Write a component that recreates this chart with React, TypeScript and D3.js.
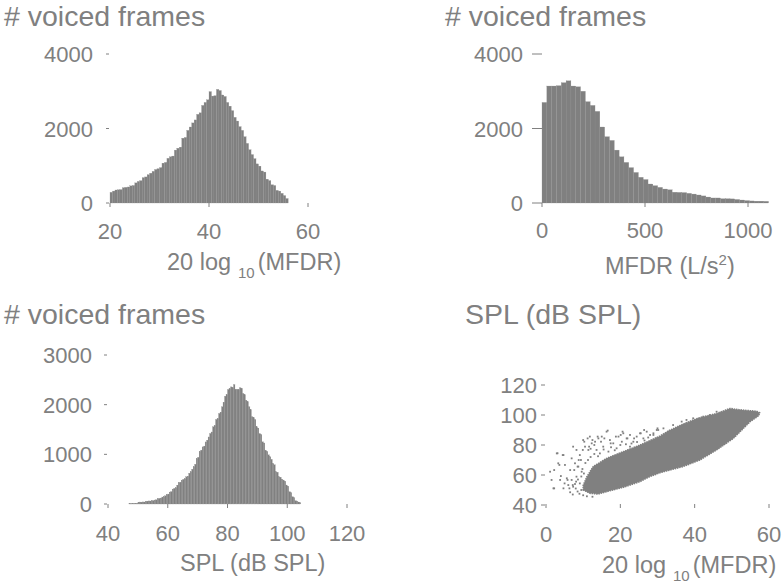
import React from 'react';
import * as d3 from 'd3';

const GREY = '#808080';
const FONT = "'Liberation Sans', Arial, Helvetica, sans-serif";

// ---------- Panel A: histogram of 20 log10(MFDR) ----------
const mfdrDbBinStart = 20;
const mfdrDbBinWidth = 0.5;
const mfdrDbCounts = [
  287, 320, 349, 355, 360, 410, 421, 430, 460, 470,
  540, 580, 600, 680, 700, 760, 800, 850, 900, 920,
  950, 1070, 1090, 1200, 1240, 1260, 1420, 1470, 1500, 1740,
  1760, 1950, 2040, 2150, 2230, 2380, 2420, 2620, 2700, 2770,
  2990, 2870, 2880, 3050, 3020, 2900, 2860, 2700, 2600, 2480,
  2300, 2200, 2050, 1950, 1780, 1600, 1430, 1300, 1190, 1050,
  990, 860, 830, 640, 600, 490, 470, 340, 320, 260,
  200, 120,
];
const mfdrDbXTicks = [20, 40, 60];
const mfdrDbYTicks = [0, 2000, 4000];

// ---------- Panel B: histogram of MFDR ----------
const mfdrBinStart = 0;
const mfdrBinWidth = 23.4;
const mfdrCounts = [
  2700, 3140, 3140, 3150, 3230, 3280, 3140, 3120, 3000, 2720,
  2620, 2460, 2040, 1780, 1680, 1420, 1240, 1090, 950, 820,
  690, 630, 510, 465, 420, 375, 355, 290, 285, 280,
  260, 240, 215, 190, 160, 135, 135, 115, 115, 110,
  95, 80, 65, 55, 50, 50, 45,
];
const mfdrXTicks = [0, 500, 1000];
const mfdrYTicks = [0, 2000, 4000];

// ---------- Panel C: histogram of SPL ----------
const splBinStart = 47;
const splBinWidth = 0.5;
const splCounts = [
  10, 10, 10, 12, 15, 15, 25, 40, 38, 42,
  40, 54, 58, 62, 60, 64, 70, 80, 85, 105,
  114, 120, 140, 150, 165, 190, 200, 240, 250, 300,
  315, 330, 380, 429, 440, 480, 496, 510, 549, 560,
  620, 650, 700, 750, 800, 918, 940, 1060, 1085, 1150,
  1166, 1250, 1286, 1350, 1420, 1450, 1554, 1580, 1702, 1720,
  1823, 1850, 1956, 2050, 2170, 2200, 2305, 2320, 2358, 2340,
  2405, 2305, 2310, 2300, 2340, 2330, 2225, 2200, 2090, 2060,
  1956, 1900, 1755, 1740, 1700, 1554, 1530, 1420, 1400, 1252,
  1230, 1085, 1060, 990, 951, 900, 817, 790, 650, 640,
  549, 540, 500, 482, 460, 382, 360, 248, 230, 147,
  130, 67, 60, 40, 30,
];
const splXTicks = [40, 60, 80, 100, 120];
const splYTicks = [0, 1000, 2000, 3000];

// ---------- Panel D: SPL vs 20 log10(MFDR) ----------
const scatterXTicks = [0, 20, 40, 60];
const scatterYTicks = [40, 60, 80, 100, 120];
// dense core of the point cloud: lower edge (left to right), upper edge (right to left)
const cloudLower: [number, number][] = [
  [10, 50], [11.8, 47.8], [14, 47.3], [16.3, 48.9], [20.8, 51.8], [25.3, 55.6],
  [28, 59], [30.7, 61.5], [32.4, 62.7], [36.9, 65.6], [41.4, 70], [45.9, 76.7],
  [50.4, 84.4], [54.9, 95.5], [57.2, 99.5],
];
const cloudUpper: [number, number][] = [
  [57.5, 101.5], [56.7, 102.5], [52, 103.5], [49.5, 104.4], [45.9, 101], [41, 98],
  [36.9, 94], [33, 89.5], [30.7, 86], [25.3, 80], [20.8, 75.6], [16.3, 71.1],
  [12.7, 65.6], [11, 58.9], [10, 53],
];
const scatterOutliers: [number, number][] = [
  [10.0, 83.3], [11.8, 85.6], [12.3, 81.1], [13.2, 82.2], [14.1, 84.4], [15.0, 85.6],
  [16.3, 88.9], [17.2, 83.3], [18.1, 81.1], [19.5, 85.6], [20.4, 82.2], [20.8, 87.8],
  [21.7, 84.4], [22.6, 86.7], [23.5, 82.2], [24.4, 85.6], [25.3, 87.8], [26.2, 84.4],
  [27.1, 88.9], [28.0, 86.7], [28.9, 87.8], [29.8, 90], [10.5, 78.9], [11.4, 76.7],
  [9.1, 73.3], [8.2, 76.7], [7.3, 78.9], [6.9, 71.1], [7.8, 67.8], [8.7, 65.6],
  [9.6, 62.2], [8.2, 58.9], [6.9, 56.7], [6.0, 53.3], [7.3, 52.2], [9.1, 54.4],
  [5.6, 57.8], [4.7, 51.1], [3.8, 56.7], [2.9, 74.4], [4.7, 73.3], [1.1, 62.2],
  [1.5, 56.7], [2.0, 51.1], [3.3, 67.8], [5.1, 66.7], [6.5, 63.3], [15.4, 78.9],
  [19.0, 77.8], [22.6, 78.9], [14.5, 74.4], [13.6, 76.7], [16.8, 75.6], [9.5, 50],
  [8.5, 49], [9, 47.5], [10, 46.5], [8, 51], [7.8, 54], [8.6, 57],
  [9.5, 59], [10.2, 61], [9.8, 64], [10.6, 68], [11.3, 70], [12, 72],
  [8.8, 70], [6.5, 48.5], [7.2, 47], [11, 45.8], [12.5, 45.5], [28.9, 86.7],
  [30.2, 90], [31.6, 91.1], [32.9, 88.9], [34.2, 93.3], [36.0, 92.2], [37.8, 96.7],
  [39.6, 97.8], [41.4, 95.6], [42.3, 98.9], [44.1, 100], [45.9, 102.2], [39.6, 94.4],
  [36.5, 95.6], [32.0, 85.6], [29.8, 84.4], [3.1, 74.5], [4.5, 73.3], [2.2, 63.3],
  [3.6, 66.7], [4.0, 59.3], [2.2, 51.1], [5.0, 54.4], [5.8, 56.7], [6.3, 51.1],
  [7.2, 53.3], [8.1, 55.6], [7.6, 63.3], [8.5, 65.6], [9.4, 70], [9.9, 76.7],
  [10.3, 82.2], [11.2, 84.4], [11.6, 78.9], [12.5, 83.3], [13.0, 80], [13.9, 85.6],
  [14.8, 82.2], [15.7, 84.4], [16.6, 89.6], [17.4, 81.1], [18.8, 85.6], [20.1, 86.7],
  [20.6, 88.9], [21.9, 84.4], [23.7, 84.4], [25.5, 87.8], [26.4, 90], [30, 91.1],
  [12.0, 77.5], [13.0, 74], [14.0, 72.5], [15.5, 77], [17.5, 78.5], [18.5, 76.5],
  [20.0, 80], [21.5, 80.5], [23.0, 81], [24.5, 82], [26.5, 83], [27.5, 85],
];

type HistProps = {
  counts: number[];
  binStart: number;
  binWidth: number;
  xDomain: [number, number];
  xRange: [number, number];
  yDomain: [number, number];
  yRange: [number, number];
  xTicks: number[];
  yTicks: number[];
  yTickFrom: number;
  yTickTo: number;
  yLabelX: number;
  xTickFrom: number;
  xTickTo: number;
  xLabelBaseline: number;
};

function Histogram(p: HistProps) {
  const x = d3.scaleLinear().domain(p.xDomain).range(p.xRange);
  const y = d3.scaleLinear().domain(p.yDomain).range(p.yRange);
  return (
    <g>
      {p.counts.map((c, i) => {
        const x0 = x(p.binStart + i * p.binWidth);
        const x1 = x(p.binStart + (i + 1) * p.binWidth);
        return (
          <rect
            key={i}
            x={x0}
            y={y(c)}
            width={x1 - x0}
            height={y(0) - y(c)}
            fill={GREY}
            stroke="#8c8c8c"
            strokeWidth={0.25}
          />
        );
      })}
      {p.yTicks.map((t) => (
        <g key={'y' + t}>
          <line x1={p.yTickFrom} x2={p.yTickTo} y1={y(t)} y2={y(t)} stroke={GREY} strokeWidth={1} />
          <text x={p.yLabelX} y={y(t) + 8} textAnchor="end" fontSize={22} fill={GREY} fontFamily={FONT}>
            {t}
          </text>
        </g>
      ))}
      {p.xTicks.map((t) => (
        <g key={'x' + t}>
          <line x1={x(t)} x2={x(t)} y1={p.xTickFrom} y2={p.xTickTo} stroke={GREY} strokeWidth={1} />
          <text x={x(t)} y={p.xLabelBaseline} textAnchor="middle" fontSize={22} fill={GREY} fontFamily={FONT}>
            {t}
          </text>
        </g>
      ))}
    </g>
  );
}

function Scatter() {
  const x = d3.scaleLinear().domain([0, 60]).range([546, 769]);
  const y = d3.scaleLinear().domain([40, 120]).range([505, 385]);
  const line = d3
    .line<[number, number]>()
    .x((d) => x(d[0]))
    .y((d) => y(d[1]))
    .curve(d3.curveLinearClosed);
  const cloud = line([...cloudLower, ...cloudUpper]) || '';
  return (
    <g>
      <path d={cloud} fill={GREY} stroke={GREY} strokeWidth={1.5} strokeDasharray="1.5 0.8" />
      {scatterOutliers.map((d, i) => (
        <rect key={i} x={x(d[0]) - 0.9} y={y(d[1]) - 0.9} width={1.8} height={1.8} fill={GREY} />
      ))}
      {scatterYTicks.map((t) => (
        <g key={'y' + t}>
          <line x1={541} x2={545} y1={y(t)} y2={y(t)} stroke={GREY} strokeWidth={1} />
          <text x={537} y={y(t) + 8} textAnchor="end" fontSize={22} fill={GREY} fontFamily={FONT}>
            {t}
          </text>
        </g>
      ))}
      {scatterXTicks.map((t) => (
        <g key={'x' + t}>
          <line x1={x(t)} x2={x(t)} y1={504} y2={508} stroke={GREY} strokeWidth={1} />
          <text x={x(t)} y={542} textAnchor="middle" fontSize={22} fill={GREY} fontFamily={FONT}>
            {t}
          </text>
        </g>
      ))}
    </g>
  );
}

function Txt(props: { x: number; y: number; size: number; children: React.ReactNode }) {
  return (
    <text x={props.x} y={props.y} fontSize={props.size} fill={GREY} fontFamily={FONT}>
      {props.children}
    </text>
  );
}

export default function App() {
  return (
    <svg
      width={784}
      height={588}
      viewBox="0 0 784 588"
      style={{ position: 'absolute', left: 0, top: 0, background: '#ffffff' }}
    >
      <rect x={0} y={0} width={784} height={588} fill="#ffffff" />

      {/* Panel A */}
      <Txt x={4} y={26} size={28.5}># voiced frames</Txt>
      <Histogram
        counts={mfdrDbCounts}
        binStart={mfdrDbBinStart}
        binWidth={mfdrDbBinWidth}
        xDomain={[20, 60]}
        xRange={[110, 308]}
        yDomain={[0, 4000]}
        yRange={[203, 54]}
        xTicks={mfdrDbXTicks}
        yTicks={mfdrDbYTicks}
        yTickFrom={106}
        yTickTo={109}
        yLabelX={93}
        xTickFrom={203}
        xTickTo={207}
        xLabelBaseline={239}
      />
      <text x={167} y={270} fontSize={23.5} fill={GREY} fontFamily={FONT}>
        20 log
        <tspan dx={7} dy={8} fontSize={15}>10</tspan>
        <tspan dx={3} dy={-8} fontSize={23.5}>(MFDR)</tspan>
      </text>

      {/* Panel B */}
      <Txt x={445} y={26} size={28.5}># voiced frames</Txt>
      <Histogram
        counts={mfdrCounts}
        binStart={mfdrBinStart}
        binWidth={mfdrBinWidth}
        xDomain={[0, 1000]}
        xRange={[542, 748]}
        yDomain={[0, 4000]}
        yRange={[203, 54]}
        xTicks={mfdrXTicks}
        yTicks={mfdrYTicks}
        yTickFrom={532}
        yTickTo={542}
        yLabelX={523}
        xTickFrom={203}
        xTickTo={207}
        xLabelBaseline={238}
      />
      <text x={605} y={274} fontSize={23.5} fill={GREY} fontFamily={FONT}>
        MFDR (L/s
        <tspan dy={-9} fontSize={15}>2</tspan>
        <tspan dy={9} fontSize={23.5}>)</tspan>
      </text>

      {/* Panel C */}
      <Txt x={4} y={324} size={28.5}># voiced frames</Txt>
      <Histogram
        counts={splCounts}
        binStart={splBinStart}
        binWidth={splBinWidth}
        xDomain={[40, 120]}
        xRange={[108, 347]}
        yDomain={[0, 3000]}
        yRange={[504, 355]}
        xTicks={splXTicks}
        yTicks={splYTicks}
        yTickFrom={104}
        yTickTo={107}
        yLabelX={92}
        xTickFrom={504}
        xTickTo={508}
        xLabelBaseline={541}
      />
      <Txt x={180} y={571} size={23.5}>SPL (dB SPL)</Txt>

      {/* Panel D */}
      <Txt x={465} y={324} size={28.5}>SPL (dB SPL)</Txt>
      <Scatter />
      <text x={602} y={573} fontSize={23.5} fill={GREY} fontFamily={FONT}>
        20 log
        <tspan dx={7} dy={8} fontSize={15}>10</tspan>
        <tspan dx={3} dy={-8} fontSize={23.5}>(MFDR)</tspan>
      </text>
    </svg>
  );
}
